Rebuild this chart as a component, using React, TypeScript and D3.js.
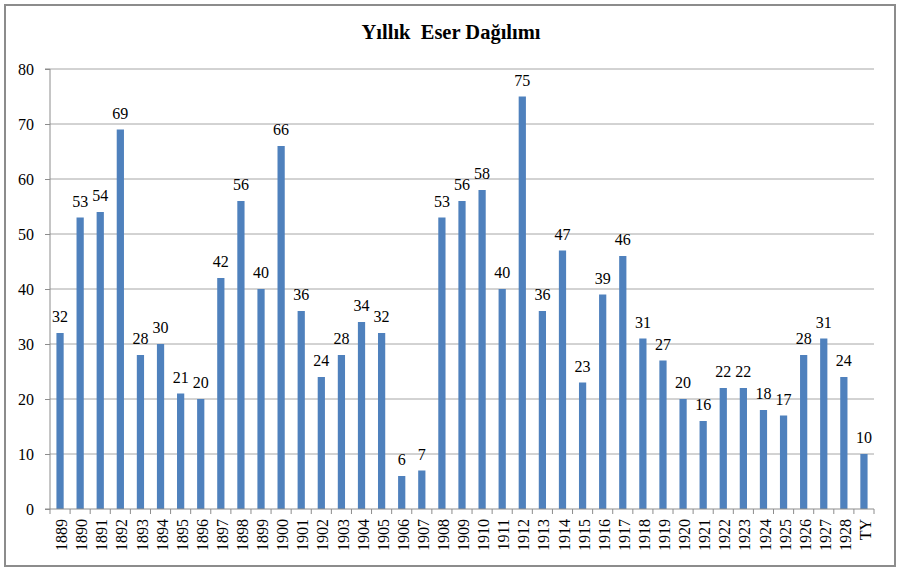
import { useEffect, useRef } from 'react';
import * as d3 from 'd3';

const years = [
  '1889', '1890', '1891', '1892', '1893', '1894', '1895', '1896', '1897', '1898',
  '1899', '1900', '1901', '1902', '1903', '1904', '1905', '1906', '1907', '1908',
  '1909', '1910', '1911', '1912', '1913', '1914', '1915', '1916', '1917', '1918',
  '1919', '1920', '1921', '1922', '1923', '1924', '1925', '1926', '1927', '1928', 'TY',
];
const counts = [
  32, 53, 54, 69, 28, 30, 21, 20, 42, 56,
  40, 66, 36, 24, 28, 34, 32, 6, 7, 53,
  56, 58, 40, 75, 36, 47, 23, 39, 46, 31,
  27, 20, 16, 22, 22, 18, 17, 28, 31, 24, 10,
];
const yTicks = [0, 10, 20, 30, 40, 50, 60, 70, 80];
const title = 'Yıllık  Eser Dağılımı';
const SERIF = "'Liberation Serif', 'DejaVu Serif', serif";

const App = () => {
  const ref = useRef<HTMLDivElement>(null);

  useEffect(() => {
    const W = 897, H = 569;
    const margin = { top: 69, right: 23, bottom: 60, left: 50 };
    const width = W - margin.left - margin.right;
    const height = H - margin.top - margin.bottom;

    d3.select(ref.current).selectAll('svg').remove();

    const root = d3.select(ref.current)
      .append('svg')
      .attr('width', W)
      .attr('height', H)
      .style('position', 'absolute')
      .style('left', '0px')
      .style('top', '0px')
      .style('font-family', SERIF);

    root.append('rect').attr('width', W).attr('height', H).attr('fill', '#fff');
    // chart frame
    root.append('rect')
      .attr('x', 5).attr('y', 5)
      .attr('width', 890).attr('height', 561)
      .attr('fill', 'none')
      .attr('stroke', '#8c8c8c')
      .attr('stroke-width', 2);

    root.append('text')
      .attr('x', 451).attr('y', 39)
      .attr('text-anchor', 'middle')
      .style('font-family', SERIF)
      .attr('font-size', 20.5)
      .attr('font-weight', 'bold')
      .style('white-space', 'pre')
      .text(title);

    const svg = root.append('g').attr('transform', `translate(${margin.left},${margin.top})`);

    const x = d3.scaleBand().domain(years).range([0, width]).paddingInner(0.64).paddingOuter(0.32);
    const y = d3.scaleLinear().domain([0, 80]).range([height, 0]);

    // gridlines
    svg.append('g')
      .selectAll('line')
      .data(yTicks.filter(d => d > 0))
      .join('line')
      .attr('x1', 0).attr('x2', width)
      .attr('y1', d => y(d)).attr('y2', d => y(d))
      .attr('stroke', '#a6a6a6')
      .attr('stroke-width', 1);

    // y axis
    const yAxis = svg.append('g')
      .call(d3.axisLeft(y).tickValues(yTicks).tickSize(5).tickPadding(11));
    yAxis.attr('font-family', null);
    yAxis.select('.domain').attr('stroke', '#8c8c8c').attr('d', `M-5,${height}H0V0H-5`);
    yAxis.selectAll('.tick line').attr('stroke', '#8c8c8c');
    yAxis.selectAll('.tick text')
      .attr('font-size', 16)
      .style('font-family', SERIF)
      .attr('fill', '#000');

    // bars
    svg.append('g')
      .selectAll('rect')
      .data(years)
      .join('rect')
      .attr('x', d => x(d)!)
      .attr('width', x.bandwidth())
      .attr('y', (d, i) => y(counts[i]))
      .attr('height', (d, i) => height - y(counts[i]))
      .attr('fill', '#4f81bd');

    // data labels
    svg.append('g')
      .selectAll('text')
      .data(years)
      .join('text')
      .attr('x', d => x(d)! + x.bandwidth() / 2)
      .attr('y', (d, i) => y(counts[i]) - 11)
      .attr('text-anchor', 'middle')
      .style('font-family', SERIF)
      .attr('font-size', 16)
      .attr('fill', '#000')
      .text((d, i) => counts[i]);

    // x axis: category boundary ticks
    const step = x.step();
    const xAxis = svg.append('g').attr('transform', `translate(0,${height})`);
    xAxis.append('line')
      .attr('x1', 0).attr('x2', width)
      .attr('stroke', '#8c8c8c');
    xAxis.selectAll('line.tk')
      .data(d3.range(years.length + 1))
      .join('line')
      .attr('class', 'tk')
      .attr('x1', i => i * step).attr('x2', i => i * step)
      .attr('y1', 0).attr('y2', 5)
      .attr('stroke', '#8c8c8c');
    xAxis.selectAll('text')
      .data(years)
      .join('text')
      .attr('transform', d => `translate(${x(d)! + x.bandwidth() / 2 + 1.5},10) rotate(-90)`)
      .attr('dy', '0.35em')
      .attr('text-anchor', 'end')
      .style('font-family', SERIF)
      .attr('font-size', 16)
      .attr('fill', '#000')
      .text(d => d);
  }, []);

  return <div ref={ref}></div>;
};

export default App;
